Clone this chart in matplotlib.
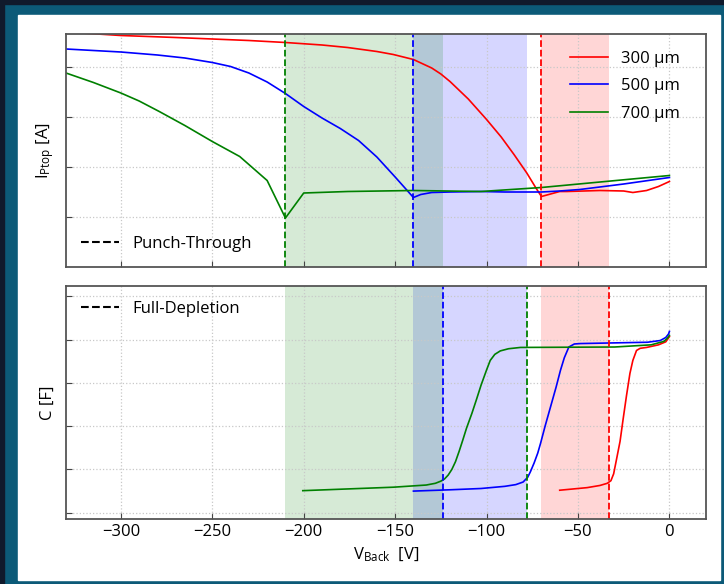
import matplotlib
matplotlib.use("Agg")
import matplotlib.pyplot as plt
from matplotlib.lines import Line2D
from matplotlib.patches import Rectangle

plt.rcParams['font.family'] = ['Open Sans', 'DejaVu Sans']
plt.rcParams['mathtext.fontset'] = 'custom'
plt.rcParams['mathtext.rm'] = 'Open Sans'
plt.rcParams['mathtext.it'] = 'Open Sans'

# thicknesses
labels = ['300 μm', '500 μm', '700 μm']
colors = ['red', 'blue', 'green']

# top panel: punch-through current (arb. units)
v_iv_300 = [-330, -300, -270, -250, -230, -210, -190, -176, -160, -151, -140, -130, -125, -120, -110, -100,
            -92, -85, -78, -73, -70, -65, -60, -56, -38, -25, -20, -12.5, -6, 0]
i_300 = [4.70, 4.63, 4.59, 4.56, 4.53, 4.49, 4.44, 4.39, 4.31, 4.25, 4.15, 3.98, 3.86, 3.71, 3.36, 2.95,
         2.60, 2.25, 1.88, 1.58, 1.41, 1.46, 1.51, 1.51, 1.53, 1.52, 1.49, 1.53, 1.61, 1.71]
v_iv_500 = [-330, -315, -300, -280, -265, -250, -240, -230, -220, -210, -200, -190, -180, -170, -160, -150,
            -140, -136, -130, -120, -103, -90, -70, -60, -49, -25, 0]
i_500 = [4.36, 4.33, 4.30, 4.24, 4.18, 4.09, 4.01, 3.88, 3.70, 3.47, 3.21, 2.98, 2.77, 2.53, 2.20, 1.80,
         1.39, 1.45, 1.49, 1.50, 1.51, 1.50, 1.50, 1.52, 1.55, 1.66, 1.79]
v_iv_700 = [-330, -315, -300, -290, -279, -265, -250, -235, -220, -210, -200, -176, -140, -103, -70, 0]
i_700 = [3.88, 3.69, 3.48, 3.32, 3.11, 2.83, 2.51, 2.21, 1.73, 0.98, 1.48, 1.51, 1.53, 1.51, 1.59, 1.83]

# bottom panel: capacitance (arb. units)
v_cv_300 = [-60, -45, -38, -34, -32, -30.5, -29, -27, -25.4, -23.5, -21.6, -20, -18, -16, -12.5, -6, -2, 0]
c_300 = [0.52, 0.58, 0.63, 0.68, 0.74, 0.90, 1.22, 1.65, 2.14, 2.70, 3.22, 3.52, 3.75, 3.80, 3.82, 3.88, 3.95, 4.07]
v_cv_500 = [-140, -120, -103, -90, -84, -80, -77.5, -76, -74, -72, -70.5, -68, -65, -62, -59.6, -57.5, -55,
            -52, -48.6, -12, -5, -2, -0.5, 0]
c_500 = [0.50, 0.53, 0.56, 0.61, 0.65, 0.71, 0.82, 0.95, 1.15, 1.38, 1.60, 2.00, 2.45, 2.90, 3.29, 3.58, 3.83,
         3.90, 3.91, 3.94, 3.98, 4.05, 4.13, 4.19]
v_cv_700 = [-200.5, -151, -133, -128, -125, -123, -121, -119, -117, -115, -113, -111, -108, -105.5, -103, -100,
            -98, -95.5, -92.5, -88, -81.5, -30, -10, -3, -1, 0]
c_700 = [0.51, 0.59, 0.64, 0.68, 0.73, 0.78, 0.87, 1.00, 1.18, 1.42, 1.68, 1.95, 2.30, 2.62, 2.95, 3.30,
         3.52, 3.66, 3.74, 3.79, 3.82, 3.83, 3.88, 3.96, 4.04, 4.10]

punch_through = [-70, -140, -210]
full_depletion = [-33, -124, -78]
spans = [(-140, -78, 'blue'), (-210, -124, 'green'), (-70, -33, 'red')]

fig = plt.figure(figsize=(7.24, 5.84), dpi=100)
fig.patch.set_facecolor('#0c5a78')
fig.patches.append(Rectangle((0, 0), 0.0055, 1, transform=fig.transFigure, color='#101a2c', zorder=-10))
fig.patches.append(Rectangle((0, 0.993), 1, 0.007, transform=fig.transFigure, color='#101a2c', zorder=-10))
fig.patches.append(Rectangle((18 / 724, 4 / 584), (720 - 18) / 724, (580 - 15) / 584,
                             transform=fig.transFigure, color='white', zorder=-10))

ax1 = fig.add_axes([66 / 724, 1 - 267 / 584, 640 / 724, 233 / 584])
ax2 = fig.add_axes([66 / 724, 1 - 519 / 584, 640 / 724, 233 / 584], sharex=ax1)

for ax in (ax1, ax2):
    for lo, hi, c in spans:
        ax.axvspan(lo, hi, color=c, alpha=0.16, lw=0, zorder=0)
    ax.grid(True, ls=':', color='#c8c8c8', lw=0.9)
    ax.set_axisbelow(True)
    ax.tick_params(direction='in', length=4, color='#444444', labelsize=12)
    for s in ax.spines.values():
        s.set_color('#555555')
        s.set_linewidth(1.3)

iv = [(v_iv_300, i_300), (v_iv_500, i_500), (v_iv_700, i_700)]
for (v, i), c, lab in zip(iv, colors, labels):
    ax1.plot(v, i, color=c, lw=1.2, label=lab)
for x, c in zip(punch_through, colors):
    ax1.axvline(x, color=c, ls='--', lw=1.3)

cv = [(v_cv_300, c_300), (v_cv_500, c_500), (v_cv_700, c_700)]
for (v, cc), c in zip(cv, colors):
    ax2.plot(v, cc, color=c, lw=1.2)
for x, c in zip(full_depletion, ['red', 'blue', 'green']):
    ax2.axvline(x, color=c, ls='--', lw=1.3)

ax1.set_xlim(-330, 20)
ax1.set_ylim(0, 4.66)
ax1.set_yticks([1, 2, 3, 4])
ax1.set_yticklabels([])
ax2.set_ylim(-0.145, 5.24)
ax2.set_yticks([0, 1, 2, 3, 4, 5])
ax2.set_yticklabels([])
ax1.tick_params(labelbottom=False)
ax2.set_xticks([-300, -250, -200, -150, -100, -50, 0])

ax1.set_ylabel(r'I$_{\mathrm{Ptop}}$ [A]', fontsize=12, labelpad=4)
ax2.set_ylabel('C [F]', fontsize=12, labelpad=4)
ax2.set_xlabel(r'V$_{\mathrm{Back}}$  [V]', fontsize=12, labelpad=4)

leg = ax1.legend(loc='upper right', bbox_to_anchor=(1 - 9 / 640, 1), frameon=False, fontsize=12,
                 handlelength=2.3, borderaxespad=0.6, labelspacing=0.7)
ax1.add_artist(leg)
pt = Line2D([], [], color='black', ls='--', lw=1.5)
ax1.legend([pt], ['Punch-Through'], loc='lower left', frameon=False, fontsize=12, handlelength=2.3)
ax2.legend([pt], ['Full-Depletion'], loc='upper left', frameon=False, fontsize=12, handlelength=2.3)

fig.savefig('out.png', dpi=100, facecolor=fig.get_facecolor())
